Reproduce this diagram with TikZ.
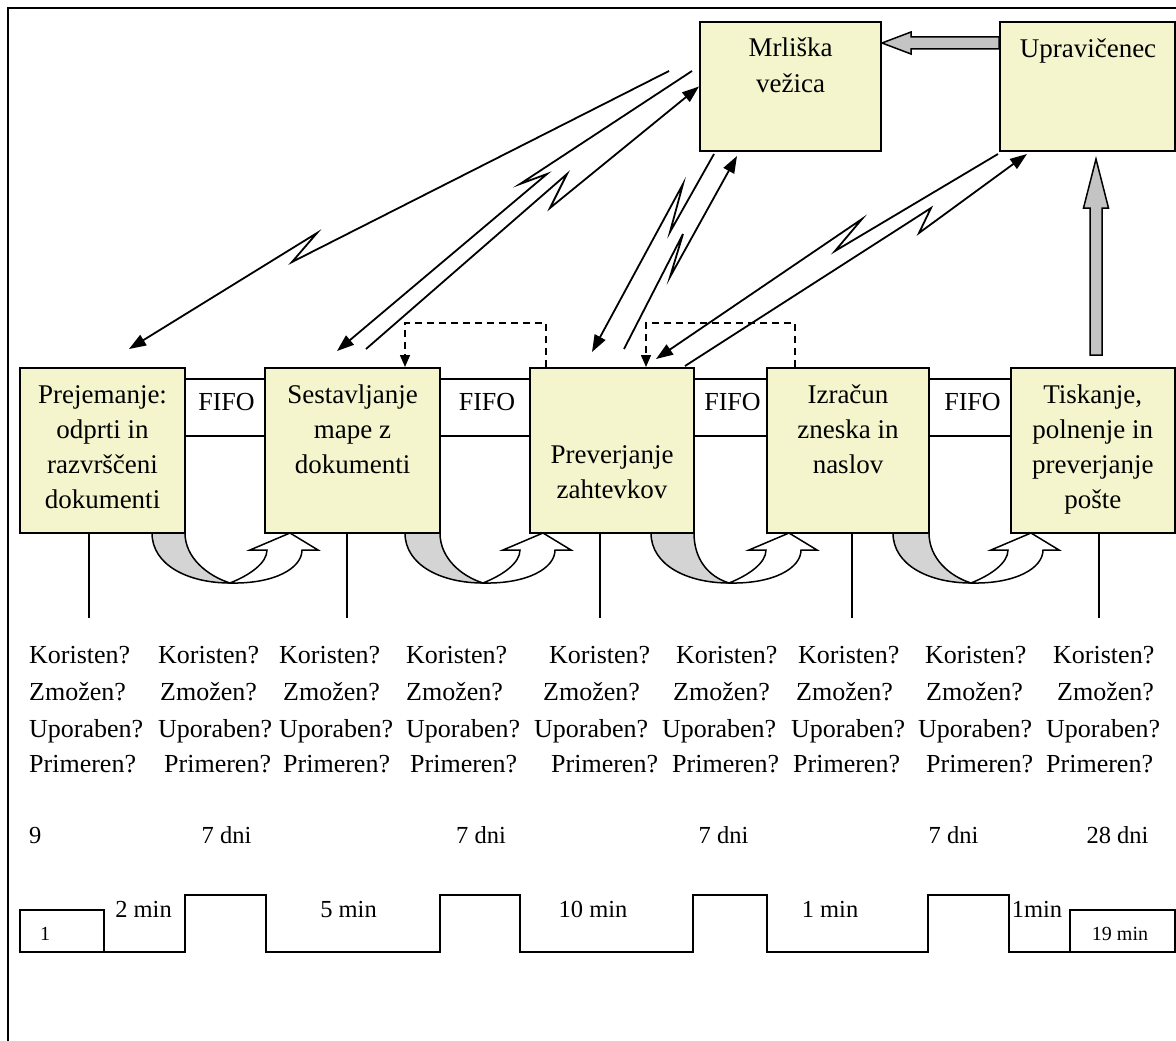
\documentclass[tikz,border=0pt]{standalone}
\usepackage{fontspec}
\setmainfont{Liberation Serif}
\usetikzlibrary{arrows.meta,calc}
\definecolor{boxfill}{RGB}{245,245,205}
\definecolor{bandgray}{RGB}{212,212,212}
\definecolor{arrgray}{RGB}{196,196,196}
\newcommand\myUarrow[2]{%
 \begin{scope}[shift={(#1,0)}]
  \filldraw[fill=bandgray,line width=1.5pt] (-78,533) .. controls (-78,565) and (-42,583) .. (0,583) .. controls (-22,576) and (#2,558) .. (#2,533) -- cycle;
  \filldraw[fill=white,line width=1.5pt] (0,583) .. controls (20,575) and (37,563) .. (37,550) -- (20,550) -- (60,533) -- (88,550) -- (72,550) .. controls (72,568) and (45,584) .. (0,583) -- cycle;
 \end{scope}}
\begin{document}
\begin{tikzpicture}[x=1pt,y=-1pt,
  font=\fontsize{26}{35}\selectfont,
  box/.style={draw,line width=2pt,fill=boxfill,inner sep=0pt},
  btxt/.style={anchor=base,inner sep=0pt,font=\fontsize{27}{35.3}\selectfont},
  bolt/.style={line width=1.8pt,-{Triangle[length=17pt,width=12pt]}},
  dasharr/.style={line width=1.5pt,dash pattern=on 7pt off 5pt,-{Triangle[length=12pt,width=10pt]}},
  bigarr/.style={draw,line width=1.5pt,fill=arrgray},
  lane/.style={line width=2pt},
  qtxt/.style={anchor=base west,inner sep=0pt},
  ctxt/.style={anchor=base,inner sep=0pt,font=\fontsize{24.5}{30}\selectfont},
  small/.style={anchor=base,inner sep=0pt,font=\fontsize{20}{24}\selectfont}]
\useasboundingbox (0,0) rectangle (1176,1041);
\fill[white] (0,0) rectangle (1176,1041);
% frame (right and bottom edges lie outside the picture)
\draw[line width=2pt] (7.5,1041) -- (7.5,8.5) -- (1176,8.5);

% curved transfer arrows (drawn under the boxes)
\myUarrow{230}{-45}
\myUarrow{483}{-43}
\myUarrow{729}{-35}
\myUarrow{971}{-42}

% boxes
\node[box,minimum width=181pt,minimum height=129pt] (mr) at (790.5,86.5) {};
\node[box,minimum width=174.5pt,minimum height=129pt] (up) at (1087.25,86.5) {};
\node[box,minimum width=165pt,minimum height=165pt] (p1) at (102.5,450.5) {};
\node[box,minimum width=175pt,minimum height=165pt] (p2) at (352.5,450.5) {};
\node[box,minimum width=164pt,minimum height=165pt] (p3) at (612,450.5) {};
\node[box,minimum width=162pt,minimum height=165pt] (p4) at (848,450.5) {};
\node[box,minimum width=163.5pt,minimum height=165pt] (p5) at (1092.75,450.5) {};

% box texts
\node[btxt] (tmr) at (mr.center |- 0,57) {\begin{tabular}[t]{@{}c@{}}Mrliška\\vežica\end{tabular}};
\node[btxt] (tup) at (1088,58) {Upravičenec};
\node[btxt] (t1) at (p1.center |- 0,403) {\begin{tabular}[t]{@{}c@{}}Prejemanje:\\odprti in\\razvrščeni\\dokumenti\end{tabular}};
\node[btxt] (t2) at (p2.center |- 0,403) {\begin{tabular}[t]{@{}c@{}}Sestavljanje\\mape z\\dokumenti\end{tabular}};
\node[btxt] (t3) at (p3.center |- 0,463) {\begin{tabular}[t]{@{}c@{}}Preverjanje\\zahtevkov\end{tabular}};
\node[btxt] (t4) at (p4.center |- 0,403) {\begin{tabular}[t]{@{}c@{}}Izračun\\zneska in\\naslov\end{tabular}};
\node[btxt] (t5) at (p5.center |- 0,403) {\begin{tabular}[t]{@{}c@{}}Tiskanje,\\polnenje in\\preverjanje\\pošte\end{tabular}};

% FIFO lanes
\foreach \a/\b/\c in {p1/p2/226.5, p2/p3/487, p3/p4/732.5, p4/p5/972.5}{
  \draw[lane] (\a.east |- 0,379) -- (\b.west |- 0,379);
  \draw[lane] (\a.east |- 0,436) -- (\b.west |- 0,436);
  \node[anchor=base,inner sep=0pt] at (\c,410) {FIFO};
}

% drop lines below boxes
\draw[lane] (89,533) -- (89,618);
\draw[lane] (347,533) -- (347,618);
\draw[lane] (600,533) -- (600,618);
\draw[lane] (852,533) -- (852,618);
\draw[lane] (1099,533) -- (1099,618);

% big grey arrows
\path[bigarr] (up.west |- 0,37) -- (911,37) -- (911,32) -- (mr.east |- 0,43) -- (911,54) -- (911,49) -- (up.west |- 0,49) -- cycle;
\path[bigarr] (1090,355) -- (1090,208) -- (1083.5,208) -- (1096,159) -- (1108.5,208) -- (1102,208) -- (1102,355) -- cycle;

% electronic information (lightning) connectors
\draw[bolt] ($(mr.north west)+(-30,50)$) -- (292,262) -- (317,233) -- ($(p1.north)+(26.5,-18)$);
\draw[bolt] ($(mr.north west)+(-7,50)$) -- (520,184) -- (547,174) -- ($(p2.north west)+(73,-16)$);
\draw[bolt] ($(p2.north west)+(102,-18)$) -- (567,174) -- (550,208) -- (mr.west);
\draw[bolt] ($(mr.south west)+(15,2)$) -- (670,232) -- (683,184) -- ($(p3.north west)+(63,-15)$);
\draw[bolt] ($(p3.north west)+(95,-18)$) -- (683,234) -- (670,277) -- ($(mr.south west)+(38,4)$);
\draw[bolt] ($(up.south west)+(-1,2)$) -- (835,251) -- (862,219) -- ($(p3.north west)+(127,-8)$);
\draw[bolt] ($(p3.north east)+(-10,-1)$) -- (931,208) -- (919,233) -- ($(up.south west)+(28,2)$);

% dashed feedback arrows
\draw[dasharr] (p3.north -| 546,0) -- (546,323) -- (405,323) -- (p2.north -| 405,0);
\draw[dasharr] (p4.north -| 795,0) -- (795,323) -- (646,323) -- (p3.north -| 646,0);

% question rows
\foreach \x in {29,158,279,406,549,676,798,925,1053} \node[qtxt] at (\x,663) {Koristen?};
\foreach \x in {29,160,283,406,543,673,796,926,1057} \node[qtxt] at (\x,700) {Zmožen?};
\foreach \x in {29,158,279,406,534,662,791,918,1046} \node[qtxt] at (\x,737) {Uporaben?};
\foreach \x in {29,164,283,410,551,672,793,926,1046} \node[qtxt] at (\x,772) {Primeren?};

% waiting times
\node[qtxt,font=\fontsize{24.5}{30}\selectfont] (w0) at (29,843) {9};
\node[ctxt] (w1) at (226.5,843) {7 dni};
\node[ctxt] (w2) at (481,843) {7 dni};
\node[ctxt] (w3) at (723.5,843) {7 dni};
\node[ctxt] (w4) at (953.5,843) {7 dni};
\node[ctxt] (w5) at (1117.5,843) {28 dni};

% timeline
\draw[lane] (20,910) rectangle (104,952);
\draw[lane,line join=miter] (104,952) -- (185,952) -- (185,895) -- (266,895) -- (266,952) -- (440,952) -- (440,895) -- (520,895) -- (520,952) -- (693,952) -- (693,895) -- (767,895) -- (767,952) -- (928,952) -- (928,895) -- (1009,895) -- (1009,952) -- (1070,952);
\draw[lane] (1070,910) rectangle (1174.5,952);
\node[small] (s1) at (45,940) {1};
\node[small] (s19) at (1120,940) {19 min};
\node[ctxt] (m1) at (143.5,917) {2 min};
\node[ctxt] (m2) at (348.5,917) {5 min};
\node[ctxt] (m3) at (593,917) {10 min};
\node[ctxt] (m4) at (830,917) {1 min};
\node[ctxt] (m5) at (1037,917) {1min};
\end{tikzpicture}
\end{document}
